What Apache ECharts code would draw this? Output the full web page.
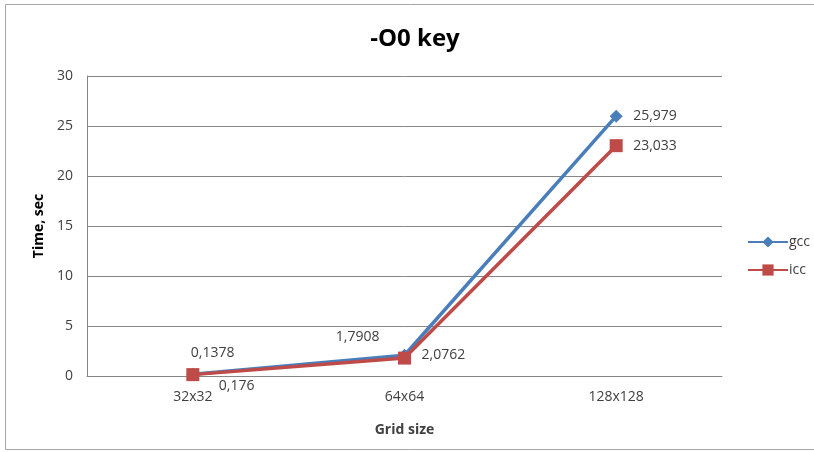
<!DOCTYPE html>
<html><head><meta charset="utf-8">
<script src="https://cdn.jsdelivr.net/npm/echarts@6/dist/echarts.min.js"></script>
<style>html,body{margin:0;padding:0;background:#fff}#c{width:814px;height:452px}</style>
</head><body><div id="c"></div>
<script>
const categories = ['32x32', '64x64', '128x128'];
const gccValues = [0.176, 2.0762, 25.979];
const iccValues = [0.1378, 1.7908, 23.033];
const yTicks = [0, 5, 10, 15, 20, 25, 30];

const fmt = v => String(v).replace('.', ',');
const font = '"Open Sans", "Noto Sans", sans-serif';
const gccLabelPos = [[26, 5, 'left', 'top'], [17, 0, 'left', 'middle'], [17, 0, 'left', 'middle']];
const iccLabelPos = [[-2, -15, 'left', 'bottom'], [-25, -14, 'right', 'bottom'], [17, 0, 'left', 'middle']];

function mkData(vals, pos) {
  return vals.map((v, i) => ({
    value: v,
    label: {
      show: true, position: 'inside', offset: [pos[i][0], pos[i][1]],
      align: pos[i][2], verticalAlign: pos[i][3],
      formatter: p => fmt(p.value), color: '#404040', fontSize: 14, fontFamily: font
    }
  }));
}

const chart = echarts.init(document.getElementById('c'), null, {renderer: 'canvas'});
chart.setOption({
  animation: false,
  title: {text: '-O0 key', left: 410, top: 22, textAlign: 'center',
    textStyle: {fontSize: 24, fontWeight: 'bold', color: '#000', fontFamily: font}},
  graphic: [{type: 'rect', shape: {x: 5.5, y: 4.5, width: 830, height: 445},
    style: {fill: 'none', stroke: '#a6a6a6', lineWidth: 1}, silent: true}],
  legend: {
    orient: 'vertical', left: 742, top: 230, itemGap: 14, itemWidth: 40, itemHeight: 14,
    textStyle: {fontSize: 14, color: '#404040', fontFamily: font, padding: [0, 0, 0, -4]},
    data: ['gcc', 'icc']
  },
  grid: {left: 87, right: 92, top: 76, bottom: 76},
  xAxis: {
    type: 'category', data: categories, boundaryGap: true,
    name: 'Grid size', nameLocation: 'middle', nameGap: 47,
    nameTextStyle: {fontSize: 14, fontWeight: 'bold', color: '#404040', fontFamily: font},
    axisLine: {lineStyle: {color: '#868686'}}, axisTick: {show: false},
    axisLabel: {fontSize: 14, color: '#404040', margin: 14, fontFamily: font}
  },
  yAxis: {
    type: 'value', min: yTicks[0], max: yTicks[yTicks.length - 1], interval: yTicks[1] - yTicks[0],
    name: 'Time, sec', nameLocation: 'middle', nameGap: 36, nameRotate: 90,
    nameTextStyle: {fontSize: 14, fontWeight: 'bold', color: '#000', fontFamily: font},
    axisLine: {show: true, lineStyle: {color: '#868686'}}, axisTick: {show: false},
    splitLine: {lineStyle: {color: '#868686'}},
    axisLabel: {fontSize: 14, color: '#404040', margin: 14, fontFamily: font}
  },
  series: [
    {name: 'gcc', type: 'line', data: mkData(gccValues, gccLabelPos), symbol: 'diamond', symbolSize: 13,
      lineStyle: {width: 3.5, color: '#4a7ebb'}, itemStyle: {color: '#4a7ebb'}},
    {name: 'icc', type: 'line', data: mkData(iccValues, iccLabelPos), symbol: 'rect', symbolSize: 13,
      lineStyle: {width: 3.5, color: '#be4b48'}, itemStyle: {color: '#be4b48'}}
  ]
});
</script></body></html>
